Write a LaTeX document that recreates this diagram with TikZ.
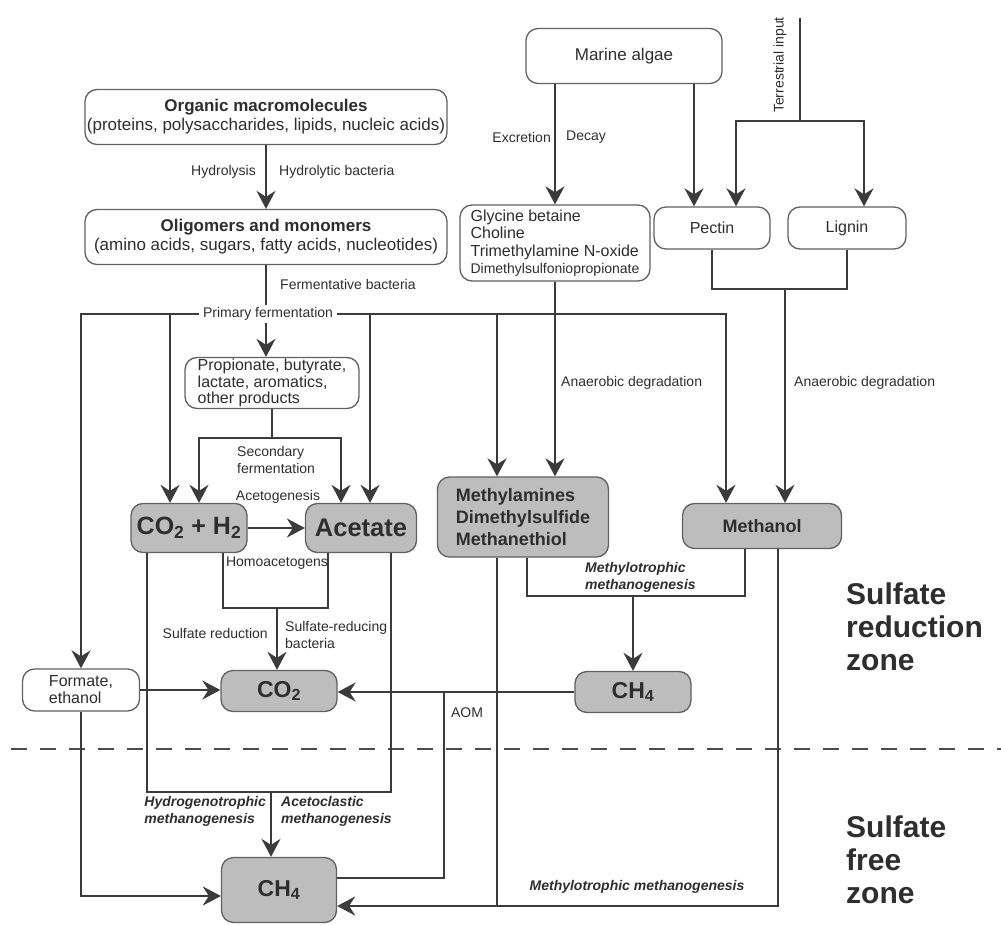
\documentclass[tikz,border=0pt]{standalone}
\usepackage{fontspec}
\setmainfont{Liberation Sans}
\usetikzlibrary{arrows.meta}

\begin{document}
\begin{tikzpicture}[x=1pt, y=-1pt,
	conn/.style={draw=\lineColor, line width=2pt},
	conarrow/.style={conn, -{Stealth[length=18pt, width=19pt, inset=6pt]}},
	wbox/.style={draw=\edgeColor, line width=1.3pt, rounded corners=12pt, fill=white, inner sep=1pt, align=center, text=\textColor},
	gbox/.style={wbox, fill=\shadeColor},
	lbl/.style={font=\fontsize{14}{16.5}\selectfont, text=\textColor, inner sep=0pt},
	ilbl/.style={lbl, font=\fontsize{14}{17}\selectfont\bfseries\itshape, align=left},
	zonetext/.style={font=\fontsize{30}{33}\selectfont\bfseries, text=\textColor, inner sep=0pt, align=left}
	]
	
	% ---- Adjustable colors ----
	\def\lineColor{black!77}
	\def\edgeColor{black!62}
	\def\shadeColor{black!26}
	\def\textColor{black!82}
	
	\useasboundingbox (0,0) rectangle (1001,925);
	
	% ---- White boxes ----
	\node[wbox, font=\fontsize{17}{19}\selectfont, minimum width=362pt, minimum height=55pt] (org) at (266,117)
		{\textbf{Organic macromolecules}\\(proteins, polysaccharides, lipids, nucleic acids)};
	\node[wbox, font=\fontsize{17}{19}\selectfont, minimum width=362pt, minimum height=55pt] (olig) at (266,237)
		{\textbf{Oligomers and monomers}\\(amino acids, sugars, fatty acids, nucleotides)};
	\node[wbox, font=\fontsize{17}{19}\selectfont, minimum width=196pt, minimum height=55pt] (algae) at (624,56) {Marine algae};
	\node[wbox, font=\fontsize{16}{17.5}\selectfont, align=left, minimum width=190pt, minimum height=76pt] (glyc) at (555,243)
		{Glycine betaine\\Choline\\Trimethylamine N-oxide\\{\fontsize{14}{17}\selectfont Dimethylsulfoniopropionate}};
	\node[wbox, font=\fontsize{16}{18}\selectfont, minimum width=116pt, minimum height=42pt] (pectin) at (712,228) {Pectin};
	\node[wbox, font=\fontsize{16}{18}\selectfont, minimum width=118pt, minimum height=42pt] (lignin) at (847,228) {Lignin};
	\node[wbox, font=\fontsize{16}{16.5}\selectfont, align=left, minimum width=174pt, minimum height=51pt] (prop) at (272,383)
		{Propionate, butyrate,\\lactate, aromatics,\\other products};
	\node[wbox, font=\fontsize{16}{17}\selectfont, align=left, minimum width=117pt, minimum height=42pt] (formate) at (81,690)
		{Formate,\\ethanol};
	
	% ---- Grey boxes ----
	\node[gbox, font=\fontsize{25}{28}\selectfont\bfseries, minimum width=116pt, minimum height=49pt] (co2h2) at (189,528)
		{CO\textsubscript{2} + H\textsubscript{2}};
	\node[gbox, font=\fontsize{25.5}{28}\selectfont\bfseries, minimum width=111pt, minimum height=49pt] (acetate) at (361,528) {Acetate};
	\node[gbox, font=\fontsize{18}{22}\selectfont\bfseries, align=left, minimum width=171pt, minimum height=80pt] (methyl) at (523,517)
		{Methylamines\\Dimethylsulfide\\Methanethiol};
	\node[gbox, font=\fontsize{18}{22}\selectfont\bfseries, minimum width=159pt, minimum height=45pt] (methanol) at (762,526) {Methanol};
	\node[gbox, font=\fontsize{23}{26}\selectfont\bfseries, minimum width=116pt, minimum height=41pt] (co2) at (279,691) {CO\textsubscript{2}};
	\node[gbox, font=\fontsize{23}{26}\selectfont\bfseries, minimum width=116pt, minimum height=41pt] (ch4top) at (633,692) {CH\textsubscript{4}};
	\node[gbox, font=\fontsize{23}{26}\selectfont\bfseries, minimum width=115pt, minimum height=65pt] (ch4bot) at (279,890) {CH\textsubscript{4}};
	
	% ---- Process labels ----
	\node[lbl, inner xsep=4pt, inner ysep=2pt] (prim) at (268,314) {Primary fermentation};
	\node[lbl, anchor=east] (hydro) at (256,172) {Hydrolysis};
	\node[lbl, anchor=west] (hbact) at (279,172) {Hydrolytic bacteria};
	\node[lbl, anchor=west] (fbact) at (280,284) {Fermentative bacteria};
	\node[lbl, anchor=east] (excr) at (551,137) {Excretion};
	\node[lbl, anchor=west] (decay) at (566,137) {Decay};
	\node[lbl, rotate=90] (terrlbl) at (780,65) {Terrestrial input};
	\node[lbl, anchor=west] (anaer1) at (561,383) {Anaerobic degradation};
	\node[lbl, anchor=west] (anaer2) at (794,383) {Anaerobic degradation};
	\node[lbl, align=left, anchor=west] (secf) at (237,460) {Secondary\\fermentation};
	\node[lbl] (acetog) at (278,497) {Acetogenesis};
	\node[lbl] (homo) at (277,563) {Homoacetogens};
	\node[lbl, anchor=east] (sred) at (268,633) {Sulfate reduction};
	\node[lbl, align=left, anchor=west] (srb) at (285,635) {Sulfate-reducing\\bacteria};
	\node[lbl] (aom) at (467,713) {AOM};
	\node[ilbl, anchor=west] (mtop) at (585,577) {Methylotrophic\\methanogenesis};
	\node[ilbl, anchor=east] (hmg) at (266,811) {Hydrogenotrophic\\methanogenesis};
	\node[ilbl, anchor=west] (amg) at (281,811) {Acetoclastic\\methanogenesis};
	\node[ilbl] (mbot) at (637,887) {Methylotrophic methanogenesis};
	
	% ---- Zones ----
	\node[zonetext, anchor=west] (zoneA) at (846,627) {Sulfate\\reduction\\zone};
	\node[zonetext, anchor=west] (zoneB) at (846,860) {Sulfate\\free\\zone};
	\draw[draw=black!70, line width=2pt, dash pattern=on 16pt off 13pt] (11,749) -- (1001,749);
	
	% ---- Junction points ----
	\coordinate (terrtop) at (800,18);
	\coordinate (terrj) at (800,121);
	\coordinate (pecin) at ([xshift=-18pt]pectin.north);
	\coordinate (plj) at (785,289);
	\coordinate (secj) at (272,438);
	\coordinate (srj) at (277,608);
	\coordinate (mtj) at (633,596);
	\coordinate (mgj) at (271,792);
	\coordinate (aomj) at (444,691);
	\coordinate (mlb) at (497,906);
	
	% ---- Hydrolysis and fermentation ----
	\draw[conarrow] (org) -- (olig);
	\draw[conn] (olig.south) -- (olig.south |- prim.north);
	\draw[conarrow] (olig.south |- prim.south) -- (olig.south |- prop.north);
	\draw[conarrow] (prim.west) -| (formate.north);
	\draw[conarrow] (prim.west) -| ([xshift=-19pt]co2h2.north);
	\foreach \tgt/\dx in {acetate/9, methyl/-26, methanol/-36}
	\draw[conarrow] (prim.east) -| ([xshift=\dx pt]\tgt.north);
	\draw[conn] (prop.south) -- (secj);
	\draw[conarrow] (secj) -| ([xshift=10pt]co2h2.north);
	\draw[conarrow] (secj) -| ([xshift=-20pt]acetate.north);
	\draw[conarrow] (co2h2) -- (acetate);
	
	% ---- Marine and terrestrial input ----
	\draw[conarrow] (algae.south -| glyc.north) -- (glyc.north);
	\draw[conarrow] (algae.south -| pecin) -- (pecin);
	\draw[conn] (terrtop) -- (terrj);
	\draw[conarrow] (terrj) -| ([xshift=24pt]pectin.north);
	\draw[conarrow] (terrj) -| ([xshift=17pt]lignin.north);
	\draw[conarrow] (glyc.south) -- (glyc.south |- methyl.north);
	\draw[conn] (pectin.south) |- (plj) -| (lignin.south);
	\draw[conarrow] (plj) -- (plj |- methanol.north);
	
	% ---- Sulfate reduction ----
	\draw[conn] ([xshift=34pt]co2h2.south) |- (srj) -| ([xshift=-33pt]acetate.south);
	\draw[conarrow] (srj) -- (srj |- co2.north);
	\draw[conarrow] (formate.east) -- (formate.east -| co2.west);
	\draw[conarrow] (ch4top.west) -- (ch4top.west -| co2.east);
	\draw[conn] ([xshift=4pt]methyl.south) |- (mtj) -| ([xshift=-17pt]methanol.south);
	\draw[conarrow] (mtj) -- (ch4top);
	\draw[conn] ([yshift=12pt]ch4bot.east) -| (aomj);
	
	% ---- Methanogenesis ----
	\draw[conn] ([xshift=-42pt]co2h2.south) |- (mgj) -| ([xshift=30pt]acetate.south);
	\draw[conarrow] (mgj) -- (mgj |- ch4bot.north);
	\draw[conarrow] (formate.south) |- ([yshift=-6pt]ch4bot.west);
	\draw[conarrow] ([xshift=16pt]methanol.south) |- ([yshift=-16pt]ch4bot.east);
	\draw[conn] ([xshift=-26pt]methyl.south) -- (mlb);
	
\end{tikzpicture}
\end{document}
